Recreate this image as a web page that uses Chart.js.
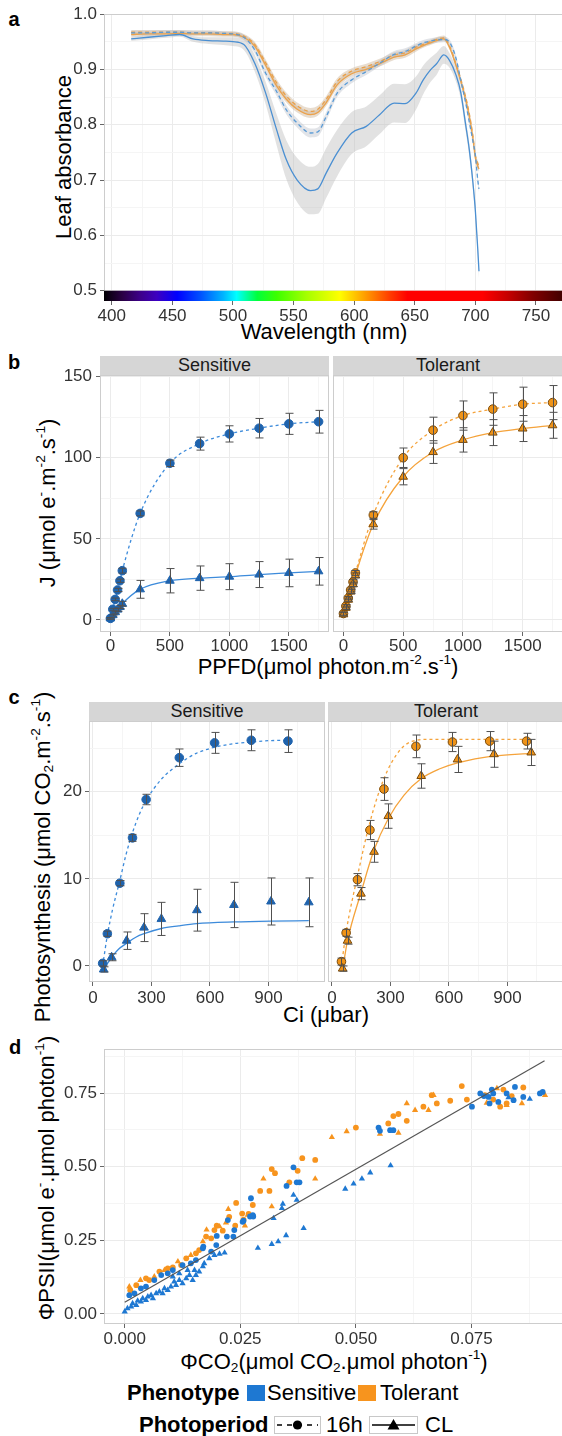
<!DOCTYPE html>
<html>
<head>
<meta charset="utf-8">
<title>Leaf absorbance, electron transport and photosynthesis</title>
<script src="https://cdn.jsdelivr.net/npm/chart.js@4.4.1/dist/chart.umd.min.js"></script>
<style>
  html, body { margin: 0; padding: 0; background: #fff; }
  body { position: relative; width: 562px; height: 1436px; overflow: hidden;
         font-family: 'Liberation Sans', Arial, Helvetica, sans-serif; color: #1a1a1a; }
  .abs { position: absolute; white-space: nowrap; }
  .ctr { transform: translate(-50%, -50%); }
  .rot { transform: translate(-50%, -50%) rotate(-90deg); }
  .tag { font-weight: bold; font-size: 20px; color: #000; }
  .axt { font-size: 22px; color: #000; }
  .strip { background: #d6d6d6; font-size: 18px; line-height: 19px; height: 19px; text-align: center; color: #1a1a1a; }
  .leg { font-size: 22px; color: #000; transform: translateY(-50%); }
  .key { position: absolute; }
  sup { font-size: 62%; vertical-align: 0.7em; line-height: 0; }
  sub { font-size: 62%; vertical-align: -0.2em; line-height: 0; }
</style>
</head>
<body>

<!-- panel letters -->
<div class="abs tag ctr" style="left:14px;top:19px">a</div>
<div class="abs tag ctr" style="left:14px;top:362px">b</div>
<div class="abs tag ctr" style="left:14px;top:697px">c</div>
<div class="abs tag ctr" style="left:15px;top:1047px">d</div>

<!-- axis titles -->
<div class="abs axt rot" style="left:64px;top:157px">Leaf absorbance</div>
<div class="abs axt ctr" style="left:324px;top:332px">Wavelength (nm)</div>
<div class="abs axt rot" style="left:48px;top:503px">J (μmol e<sup>-</sup>.m<sup>-2</sup>.s<sup>-1</sup>)</div>
<div class="abs axt ctr" style="left:328px;top:667px">PPFD(μmol photon.m<sup>-2</sup>.s<sup>-1</sup>)</div>
<div class="abs axt rot" style="left:43px;top:857px">Photosynthesis (μmol CO<sub>2</sub>.m<sup>-2</sup>.s<sup>-1</sup>)</div>
<div class="abs axt ctr" style="left:326px;top:1015px">Ci (μbar)</div>
<div class="abs axt rot" style="left:47px;top:1178px">ΦPSII(μmol e<sup>-</sup>.μmol photon<sup>-1</sup>)</div>
<div class="abs axt ctr" style="left:334px;top:1362px">ΦCO<sub>2</sub>(μmol CO<sub>2</sub>.μmol photon<sup>-1</sup>)</div>

<!-- facet strips -->
<div class="abs strip" style="left:100px;top:356px;width:229px">Sensitive</div>
<div class="abs strip" style="left:333px;top:356px;width:230px">Tolerant</div>
<div class="abs strip" style="left:89px;top:702px;width:236px">Sensitive</div>
<div class="abs strip" style="left:328px;top:702px;width:236px">Tolerant</div>

<!-- legend -->
<div class="abs leg" style="left:127px;top:1393px;font-weight:bold">Phenotype</div>
<div class="key" style="left:247px;top:1385px;width:18px;height:16px;background:#1e78d2"></div>
<div class="abs leg" style="left:267px;top:1393px">Sensitive</div>
<div class="key" style="left:358px;top:1385px;width:18px;height:16px;background:#f7941e"></div>
<div class="abs leg" style="left:380px;top:1393px">Tolerant</div>

<div class="abs leg" style="left:139px;top:1425px;font-weight:bold">Photoperiod</div>
<svg class="key" style="left:274px;top:1416px" width="47" height="18">
  <rect x="0.5" y="0.5" width="46" height="17" fill="#fff" stroke="#c8c8c8"/>
  <line x1="3" y1="9" x2="44" y2="9" stroke="#000" stroke-width="1.6" stroke-dasharray="5,5"/>
  <circle cx="23.5" cy="9" r="4.6" fill="#000"/>
</svg>
<div class="abs leg" style="left:326px;top:1425px">16h</div>
<svg class="key" style="left:369px;top:1416px" width="49" height="18">
  <rect x="0.5" y="0.5" width="48" height="17" fill="#fff" stroke="#c8c8c8"/>
  <line x1="3" y1="9" x2="46" y2="9" stroke="#000" stroke-width="1.6"/>
  <polygon points="24.5,3 30.5,13.5 18.5,13.5" fill="#000"/>
</svg>
<div class="abs leg" style="left:425px;top:1425px">CL</div>

<script>
/******************************************************************************
 * data
 *****************************************************************************/
// a: leaf absorbance spectra
const wl = [416, 430, 445, 456, 467, 480, 492, 500, 509, 518, 527, 536, 544, 553, 564, 570, 577, 586, 598, 610,
            621, 633, 642, 651, 657, 663, 668, 674, 679, 684, 688, 692, 695, 698, 700, 702, 703];
const absSensCL = [0.955, 0.958, 0.961, 0.963, 0.955, 0.952, 0.951, 0.950, 0.945, 0.911, 0.857, 0.791, 0.737, 0.700,
                   0.681, 0.684, 0.713, 0.749, 0.785, 0.797, 0.818, 0.839, 0.838, 0.857, 0.881, 0.899, 0.910, 0.926,
                   0.915, 0.890, 0.858, 0.800, 0.755, 0.695, 0.645, 0.575, 0.535];
const absSensCLsd = [0.004, 0.004, 0.004, 0.004, 0.005, 0.006, 0.007, 0.008, 0.010, 0.015, 0.020, 0.028, 0.035, 0.040,
                     0.043, 0.045, 0.045, 0.042, 0.038, 0.036, 0.035, 0.035, 0.035, 0.030, 0.026, 0.022, 0.020, 0.016,
                     0.013, 0.012, 0.012, 0.012, 0.012, 0.012, 0.012, 0.012, 0.012];
const absSens16 = [0.966, 0.966, 0.967, 0.967, 0.966, 0.966, 0.965, 0.964, 0.958, 0.935, 0.893, 0.860, 0.827, 0.803,
                   0.785, 0.787, 0.815, 0.857, 0.881, 0.896, 0.911, 0.927, 0.932, 0.942, 0.948, 0.951, 0.953, 0.954,
                   0.948, 0.920, 0.880, 0.840, 0.805, 0.770, 0.745, 0.700, 0.684];
const absSens16sd = [0.004, 0.004, 0.004, 0.004, 0.004, 0.004, 0.004, 0.004, 0.005, 0.006, 0.007, 0.008, 0.008, 0.008,
                     0.008, 0.008, 0.008, 0.007, 0.006, 0.006, 0.006, 0.006, 0.006, 0.005, 0.005, 0.005, 0.005, 0.005,
                     0.005, 0.006, 0.006, 0.006, 0.006, 0.006, 0.006, 0.006, 0.006];
const absTol16 = [0.967, 0.967, 0.967, 0.967, 0.966, 0.966, 0.965, 0.965, 0.960, 0.945, 0.912, 0.876, 0.852, 0.834,
                  0.824, 0.828, 0.846, 0.878, 0.897, 0.905, 0.914, 0.926, 0.930, 0.940, 0.945, 0.950, 0.954, 0.957,
                  0.941, 0.910, 0.882, 0.850, 0.820, 0.780, 0.745, 0.730, 0.725];
const absTolCL = [0.963, 0.964, 0.964, 0.965, 0.964, 0.964, 0.963, 0.963, 0.958, 0.942, 0.907, 0.870, 0.846, 0.828,
                  0.818, 0.822, 0.840, 0.872, 0.892, 0.900, 0.910, 0.922, 0.926, 0.937, 0.943, 0.948, 0.952, 0.955,
                  0.938, 0.907, 0.878, 0.845, 0.815, 0.775, 0.740, 0.725, 0.720];
const absTolSd = [0.004, 0.004, 0.004, 0.004, 0.004, 0.004, 0.004, 0.004, 0.004, 0.005, 0.006, 0.006, 0.006, 0.006,
                  0.006, 0.006, 0.006, 0.006, 0.005, 0.005, 0.005, 0.005, 0.005, 0.005, 0.004, 0.004, 0.004, 0.004,
                  0.004, 0.005, 0.005, 0.005, 0.005, 0.005, 0.005, 0.005, 0.005];
const spectrumNm = [393, 409, 423, 437, 454, 473, 492, 503, 520, 536, 561, 588, 611, 630, 644, 706, 726, 747, 775];
const spectrumCol = ['#000000', '#2a0045', '#3c0087', '#3d00c0', '#0000ff', '#0050ff', '#00b4ff', '#00ffff',
                     '#00ff3c', '#3cff00', '#a6ff00', '#ffff00', '#ff9400', '#ff3a00', '#ff0000', '#ff0000',
                     '#c80000', '#820000', '#3a0000'];

// b: electron transport rate vs PPFD
const ppfd = [0, 20, 40, 60, 80, 100, 250, 500, 750, 1000, 1250, 1500, 1750];
const jSens16 = [1.0, 6.6, 12.7, 18.5, 24.2, 30.4, 65.7, 96.6, 108.7, 114.7, 118.2, 120.9, 122.2];
const jSens16Err = [0.5, 0.6, 0.8, 1.0, 1.0, 1.5, 1.5, 2.0, 4.0, 5.0, 6.0, 6.5, 7.0];
const jSensCL = [1.0, 3.0, 4.8, 6.4, 8.0, 10.0, 18.9, 24.2, 25.8, 26.7, 28.0, 29.0, 30.0];
const jSensCLErr = [0.5, 0.5, 0.6, 1.0, 1.0, 1.5, 5.5, 7.5, 7.5, 8.0, 8.0, 8.5, 8.5];
const jTol16 = [4.0, 8.5, 13.5, 18.5, 23.5, 29.0, 64.7, 100.0, 117.0, 126.0, 130.0, 133.0, 134.0];
const jTol16Err = [1.0, 1.0, 1.0, 1.2, 1.3, 1.5, 2.0, 6.0, 8.0, 9.0, 10.0, 10.5, 10.5];
const jTolCL = [3.5, 7.5, 12.5, 17.5, 22.0, 27.5, 59.0, 88.3, 103.5, 111.0, 115.5, 118.0, 120.0];
const jTolCLErr = [1.0, 1.0, 1.0, 1.2, 1.3, 1.5, 3.0, 5.0, 7.0, 7.5, 8.0, 8.0, 8.0];

// c: photosynthesis vs Ci (means, errors, fitted curves)
const ciSens16 = [50, 74, 138, 203, 273, 443, 624, 812, 1000];
const aSens16 = [0.3, 3.7, 9.5, 14.7, 19.1, 23.9, 25.6, 25.9, 25.8];
const aSens16Err = [0.3, 0.3, 0.3, 0.4, 0.6, 1.0, 1.2, 1.2, 1.3];
const fitSens16X = [50, 74, 100, 138, 170, 203, 240, 273, 350, 443, 530, 624, 720, 812, 900, 1000];
const fitSens16Y = [0.0, 3.5, 6.4, 9.8, 12.8, 15.3, 17.5, 19.0, 21.4, 23.2, 24.4, 25.1, 25.5, 25.7, 25.85, 25.9];
const ciSensCL = [55, 96, 173, 262, 351, 533, 723, 913, 1107];
const aSensCL = [-0.4, 1.0, 2.9, 4.4, 5.4, 6.4, 7.0, 7.4, 7.3];
const aSensCLErr = [0.3, 0.4, 1.0, 1.6, 1.9, 2.4, 2.6, 2.7, 2.8];
const fitSensCLX = [55, 96, 130, 173, 220, 262, 351, 440, 533, 723, 913, 1107];
const fitSensCLY = [-0.4, 1.0, 1.9, 2.6, 3.3, 3.7, 4.3, 4.6, 4.85, 5.05, 5.15, 5.2];
const ciTol16 = [49, 73, 131, 195, 267, 431, 618, 809, 998];
const aTol16 = [0.5, 3.8, 9.9, 15.6, 20.3, 25.2, 25.7, 25.8, 25.8];
const aTol16Err = [0.4, 0.4, 0.7, 1.1, 1.3, 1.3, 1.1, 1.1, 0.9];
const fitTol16X = [49, 73, 131, 195, 267, 350, 431, 500, 618, 809, 998];
const fitTol16Y = [0.0, 3.9, 10.3, 16.5, 21.5, 24.8, 25.9, 26.0, 26.0, 26.0, 26.0];
const ciTolCL = [55, 80, 149, 216, 289, 458, 644, 831, 1022];
const aTolCL = [-0.3, 2.9, 8.3, 13.1, 17.2, 21.8, 23.7, 24.3, 24.5];
const aTolCLErr = [0.3, 0.4, 0.7, 1.2, 1.4, 1.4, 1.5, 1.5, 1.5];
const fitTolCLX = [55, 80, 149, 216, 289, 370, 458, 550, 644, 831, 1022];
const fitTolCLY = [-0.4, 2.9, 8.4, 13.3, 16.9, 19.6, 21.5, 22.6, 23.3, 24.1, 24.4];

// d: quantum yield of PSII vs quantum yield of CO2 fixation  [phiCO2, phiPSII]
const dSens16 = [[0.0010,0.064],[0.0021,0.070],[0.0035,0.087],[0.0046,0.093],[0.0064,0.115],[0.0079,0.132],
  [0.0093,0.138],[0.0104,0.149],[0.0125,0.166],[0.0143,0.172],[0.0154,0.183],[0.0169,0.223],[0.0187,0.212],
  [0.0198,0.234],[0.0170,0.229],[0.0199,0.265],[0.0221,0.263],[0.0235,0.263],[0.0223,0.319],[0.0237,0.285],
  [0.0255,0.313],[0.0257,0.317],[0.0271,0.331],[0.0278,0.331],[0.0277,0.336],[0.0273,0.393],[0.0350,0.435],
  [0.0372,0.447],[0.0378,0.447],[0.0365,0.498],[0.0549,0.633],[0.0552,0.622],[0.0574,0.624],[0.0581,0.624],
  [0.0751,0.704],[0.0769,0.749],[0.0777,0.740],[0.0787,0.737],[0.0789,0.715],[0.0794,0.762],[0.0797,0.749],
  [0.0808,0.720],[0.0826,0.749],[0.0841,0.726],[0.0844,0.771],[0.0862,0.737],[0.0898,0.749],[0.0904,0.754]];
const dSensCL = [[0.0000,0.008],[0.0006,0.019],[0.0014,0.025],[0.0017,0.036],[0.0025,0.030],[0.0028,0.045],
  [0.0035,0.042],[0.0039,0.053],[0.0046,0.047],[0.0050,0.059],[0.0057,0.064],[0.0061,0.053],[0.0068,0.070],
  [0.0075,0.076],[0.0082,0.070],[0.0086,0.087],[0.0093,0.081],[0.0100,0.093],[0.0104,0.127],[0.0107,0.110],
  [0.0111,0.098],[0.0118,0.115],[0.0118,0.138],[0.0125,0.104],[0.0133,0.121],[0.0136,0.149],[0.0140,0.132],
  [0.0147,0.115],[0.0151,0.149],[0.0154,0.132],[0.0161,0.144],[0.0169,0.161],[0.0172,0.172],[0.0183,0.189],
  [0.0194,0.200],[0.0205,0.204],[0.0216,0.208],[0.0288,0.224],[0.0318,0.237],[0.0332,0.246],[0.0349,0.267],
  [0.0387,0.291],[0.0322,0.325],[0.0340,0.359],[0.0342,0.374],[0.0365,0.404],[0.0372,0.387],[0.0477,0.425],
  [0.0495,0.442],[0.0513,0.459],[0.0531,0.480],[0.0575,0.504],[0.0830,0.735],[0.0876,0.730]];
const dTol16 = [[0.0012,0.081],[0.0025,0.098],[0.0046,0.121],[0.0053,0.115],[0.0075,0.144],[0.0093,0.155],
  [0.0104,0.158],[0.0122,0.166],[0.0133,0.189],[0.0154,0.206],[0.0161,0.217],[0.0176,0.263],[0.0187,0.257],
  [0.0194,0.285],[0.0212,0.283],[0.0199,0.300],[0.0226,0.330],[0.0241,0.377],[0.0254,0.341],[0.0268,0.340],
  [0.0239,0.300],[0.0257,0.320],[0.0277,0.370],[0.0293,0.418],[0.0313,0.418],[0.0318,0.492],[0.0325,0.478],
  [0.0356,0.447],[0.0374,0.486],[0.0384,0.529],[0.0412,0.523],[0.0500,0.633],[0.0570,0.647],[0.0581,0.672],
  [0.0592,0.679],[0.0610,0.656],[0.0646,0.704],[0.0664,0.743],[0.0675,0.715],[0.0704,0.724],[0.0729,0.774],
  [0.0740,0.728],[0.0779,0.743],[0.0797,0.728],[0.0812,0.704],[0.0819,0.762],[0.0826,0.715],[0.0837,0.740],
  [0.0862,0.769]];
const dTolCL = [[0.0010,0.093],[0.0034,0.115],[0.0064,0.127],[0.0086,0.149],[0.0115,0.178],[0.0143,0.200],
  [0.0169,0.246],[0.0177,0.286],[0.0205,0.297],[0.0219,0.310],[0.0224,0.356],[0.0260,0.300],[0.0266,0.336],
  [0.0300,0.459],[0.0318,0.365],[0.0412,0.459],[0.0448,0.600],[0.0480,0.620],[0.0552,0.611],[0.0592,0.615],
  [0.0610,0.715],[0.0628,0.692],[0.0657,0.692],[0.0668,0.743],[0.0783,0.717],[0.0805,0.766],[0.0826,0.709],
  [0.0859,0.715],[0.0909,0.743]];
const dLineX = [0.0, 0.0908];
const dLineY = [0.04, 0.86];

/******************************************************************************
 * look
 *****************************************************************************/
const BLUE = '#1e78d2', ORANGE = '#f7941e';
Chart.defaults.font.family = "'Liberation Sans', Arial, Helvetica, sans-serif";
Chart.defaults.font.size = 17;
Chart.defaults.color = '#333';
Chart.defaults.animation = false;

const frame = {
  id: 'frame',
  beforeDatasetsDraw(chart) {
    const a = chart.chartArea, c = chart.ctx;
    c.save();
    c.strokeStyle = '#cdcdcd';
    c.lineWidth = 1;
    c.strokeRect(Math.round(a.left) + 0.5, Math.round(a.top) + 0.5,
                 Math.round(a.right - a.left) - 1, Math.round(a.bottom - a.top) - 1);
    c.restore();
  }
};

const spectrumBar = {
  id: 'spectrumBar',
  beforeDatasetsDraw(chart) {
    const {ctx, chartArea: a, scales: {x, y}} = chart;
    const x0 = x.getPixelForValue(spectrumNm[0]);
    const x1 = x.getPixelForValue(spectrumNm[spectrumNm.length - 1]);
    const g = ctx.createLinearGradient(x0, 0, x1, 0);
    spectrumNm.forEach((nm, i) => g.addColorStop((x.getPixelForValue(nm) - x0) / (x1 - x0), spectrumCol[i]));
    const top = y.getPixelForValue(0.5);
    ctx.save();
    ctx.fillStyle = g;
    ctx.fillRect(a.left, top, a.right - a.left, a.bottom - top);
    ctx.restore();
  }
};

const errorBars = {
  id: 'errorBars',
  afterDatasetsDraw(chart) {
    const {ctx, scales: {x, y}} = chart;
    ctx.save();
    ctx.strokeStyle = '#505050';
    ctx.lineWidth = 1;
    chart.data.datasets.forEach(ds => {
      if (!ds.errors) return;
      ds.data.forEach((p, j) => {
        const e = ds.errors[j];
        const px = Math.round(x.getPixelForValue(p.x)) + 0.5;
        const lo = y.getPixelForValue(p.y - e), hi = y.getPixelForValue(p.y + e);
        ctx.beginPath();
        ctx.moveTo(px, lo); ctx.lineTo(px, hi);
        ctx.moveTo(px - 4, lo); ctx.lineTo(px + 4, lo);
        ctx.moveTo(px - 4, hi); ctx.lineTo(px + 4, hi);
        ctx.stroke();
      });
    });
    ctx.restore();
  }
};

// linear axis with ggplot-like major + minor grid
function axis(min, max, majors, minors, fmt, pad, showLabels) {
  const all = majors.concat(minors).sort((a, b) => a - b);
  const isMajor = v => majors.some(m => Math.abs(m - v) < 1e-9);
  return {
    type: 'linear', min: min, max: max,
    afterBuildTicks: s => { s.ticks = all.map(v => ({value: v})); },
    ticks: {
      display: showLabels !== false, autoSkip: false, maxRotation: 0, padding: pad,
      callback: v => isMajor(v) ? fmt(v) : ''
    },
    grid: {
      color: c => (c.tick && isMajor(c.tick.value)) ? '#ebebeb' : '#f5f5f5',
      tickColor: c => (c.tick && isMajor(c.tick.value)) ? '#666' : 'rgba(0,0,0,0)',
      tickLength: 4, drawTicks: showLabels !== false
    },
    border: {display: false}
  };
}

// place a chart so that its plot area lands on box (page pixels)
function place(box, config, yw, xh) {
  const wrap = document.createElement('div');
  wrap.style.position = 'absolute';
  const cv = document.createElement('canvas');
  const padT = 16, padR = 16, padL = 10;
  cv.width = Math.round(padL + yw + box.w + padR);
  cv.height = Math.round(padT + box.h + xh);
  wrap.appendChild(cv);
  document.body.appendChild(wrap);
  config.options.responsive = false;
  config.options.maintainAspectRatio = false;
  config.options.events = [];
  config.options.layout = {padding: {top: padT, right: padR, left: padL, bottom: 0}};
  config.options.plugins = {legend: {display: false}, tooltip: {enabled: false}};
  config.options.scales.y.afterFit = s => { s.width = yw; };
  config.options.scales.x.afterFit = s => { s.height = xh; };
  const chart = new Chart(cv, config);
  let a = chart.chartArea;
  const dw = box.w - (a.right - a.left), dh = box.h - (a.bottom - a.top);
  if (Math.abs(dw) > 0.5 || Math.abs(dh) > 0.5) {
    chart.resize(Math.round(chart.width + dw), Math.round(chart.height + dh));
    a = chart.chartArea;
  }
  wrap.style.left = (box.x - a.left) + 'px';
  wrap.style.top = (box.y - a.top) + 'px';
  return chart;
}

const pts = (xs, ys) => xs.map((x, i) => ({x: x, y: ys[i]}));
const pairs = arr => arr.map(p => ({x: p[0], y: p[1]}));

/******************************************************************************
 * a
 *****************************************************************************/
function ribbon(ys, sd, fillCol) {
  return [
    {type: 'line', data: pts(wl, ys.map((v, i) => v + sd[i])), borderWidth: 0, pointRadius: 0,
     fill: '+1', backgroundColor: fillCol, cubicInterpolationMode: 'monotone', order: 2},
    {type: 'line', data: pts(wl, ys.map((v, i) => v - sd[i])), borderWidth: 0, pointRadius: 0,
     fill: false, cubicInterpolationMode: 'monotone', order: 2}
  ];
}
function spectrumLine(ys, col, dashed) {
  return {type: 'line', data: pts(wl, ys), borderColor: col, borderWidth: 1.3, borderDash: dashed ? [4, 3] : [],
          pointRadius: 0, fill: false, cubicInterpolationMode: 'monotone', order: 0};
}

place({x: 104, y: 14, w: 462, h: 287}, {
  type: 'scatter',
  data: {datasets: [].concat(
    ribbon(absSensCL, absSensCLsd, 'rgba(190,190,190,0.45)'),
    ribbon(absSens16, absSens16sd, 'rgba(190,195,205,0.45)'),
    ribbon(absTol16, absTolSd, 'rgba(205,180,150,0.45)'),
    ribbon(absTolCL, absTolSd, 'rgba(205,180,150,0.45)'),
    [spectrumLine(absSensCL, '#4a8fd2', false),
     spectrumLine(absSens16, '#5a9bd6', true),
     spectrumLine(absTol16, '#e9a04a', true),
     spectrumLine(absTolCL, '#eba24c', false)]
  )},
  options: {
    scales: {
      x: axis(393.6, 774.8, [400, 450, 500, 550, 600, 650, 700, 750], [425, 475, 525, 575, 625, 675, 725],
              v => String(v), 1),
      y: axis(0.4814, 1.0, [0.5, 0.6, 0.7, 0.8, 0.9, 1.0], [0.55, 0.65, 0.75, 0.85, 0.95],
              v => v.toFixed(1), 3)
    }
  },
  plugins: [frame, spectrumBar]
}, 60, 40);

/******************************************************************************
 * b and c facets
 *****************************************************************************/
function facet(box, xAxis, yAxis, series, yw) {
  const datasets = [];
  series.forEach(s => {
    datasets.push({type: 'line', data: pts(s.fx, s.fy), borderColor: s.line, borderWidth: 1.3,
                   borderDash: s.dash ? [3, 3] : [], pointRadius: 0, fill: false, showLine: true,
                   cubicInterpolationMode: 'monotone', order: 2});
    datasets.push({type: 'scatter', data: pts(s.x, s.y), errors: s.err, pointStyle: s.shape,
                   pointRadius: s.shape === 'triangle' ? 5 : 4.3, backgroundColor: s.fill,
                   borderColor: s.edge, borderWidth: 1, order: 1});
  });
  return place(box, {type: 'scatter', data: {datasets: datasets},
                     options: {scales: {x: xAxis, y: yAxis}}, plugins: [frame, errorBars]}, yw, 40);
}

const SENS_PT = '#1f63ad', SENS_LN = '#3d8bdb', TOL_PT = '#ef9318', TOL_LN = '#f5a33b';
const bx = () => axis(-87.5, 1837.5, [0, 500, 1000, 1500], [250, 750, 1250, 1750], v => String(v), 0);
const by = show => axis(-7.4, 151.0, [0, 50, 100, 150], [25, 75, 125], v => String(v), 4, show);

facet({x: 100, y: 375, w: 229, h: 257}, bx(), by(true), [
  {x: ppfd, y: jSensCL, err: jSensCLErr, fx: ppfd, fy: jSensCL, shape: 'triangle',
   fill: SENS_PT, edge: SENS_PT, line: SENS_LN, dash: false},
  {x: ppfd, y: jSens16, err: jSens16Err, fx: ppfd, fy: jSens16, shape: 'circle',
   fill: SENS_PT, edge: SENS_PT, line: SENS_LN, dash: true}
], 60);
facet({x: 333, y: 375, w: 230, h: 257}, bx(), by(false), [
  {x: ppfd, y: jTolCL, err: jTolCLErr, fx: ppfd, fy: jTolCL, shape: 'triangle',
   fill: TOL_PT, edge: '#7a4a0a', line: TOL_LN, dash: false},
  {x: ppfd, y: jTol16, err: jTol16Err, fx: ppfd, fy: jTol16, shape: 'circle',
   fill: TOL_PT, edge: '#7a4a0a', line: TOL_LN, dash: true}
], 0);

const cx = () => axis(-20, 1190, [0, 300, 600, 900], [150, 450, 750, 1050], v => String(v), 2);
const cy = show => axis(-1.84, 28.11, [0, 10, 20], [5, 15, 25], v => String(v), 3, show);

facet({x: 89, y: 721, w: 236, h: 261}, cx(), cy(true), [
  {x: ciSensCL, y: aSensCL, err: aSensCLErr, fx: fitSensCLX, fy: fitSensCLY, shape: 'triangle',
   fill: SENS_PT, edge: SENS_PT, line: SENS_LN, dash: false},
  {x: ciSens16, y: aSens16, err: aSens16Err, fx: fitSens16X, fy: fitSens16Y, shape: 'circle',
   fill: SENS_PT, edge: SENS_PT, line: SENS_LN, dash: true}
], 60);
facet({x: 328, y: 721, w: 236, h: 261}, cx(), cy(false), [
  {x: ciTolCL, y: aTolCL, err: aTolCLErr, fx: fitTolCLX, fy: fitTolCLY, shape: 'triangle',
   fill: TOL_PT, edge: '#7a4a0a', line: TOL_LN, dash: false},
  {x: ciTol16, y: aTol16, err: aTol16Err, fx: fitTol16X, fy: fitTol16Y, shape: 'circle',
   fill: TOL_PT, edge: '#7a4a0a', line: TOL_LN, dash: true}
], 0);

/******************************************************************************
 * d
 *****************************************************************************/
place({x: 104, y: 1049, w: 462, h: 275}, {
  type: 'scatter',
  data: {datasets: [
    {type: 'line', data: pts(dLineX, dLineY), borderColor: '#555', borderWidth: 1.2, pointRadius: 0,
     showLine: true, fill: false, order: 0},
    {data: pairs(dSensCL), pointStyle: 'triangle', pointRadius: 3.6, backgroundColor: BLUE, borderWidth: 0, order: 1},
    {data: pairs(dSens16), pointStyle: 'circle', pointRadius: 2.9, backgroundColor: BLUE, borderWidth: 0, order: 1},
    {data: pairs(dTolCL), pointStyle: 'triangle', pointRadius: 3.6, backgroundColor: ORANGE, borderWidth: 0, order: 1},
    {data: pairs(dTol16), pointStyle: 'circle', pointRadius: 2.9, backgroundColor: ORANGE, borderWidth: 0, order: 1}
  ]},
  options: {
    scales: {
      x: axis(-0.00448, 0.09544, [0, 0.025, 0.05, 0.075], [0.0125, 0.0375, 0.0625, 0.0875], v => v.toFixed(3), 1),
      y: axis(-0.034, 0.8998, [0, 0.25, 0.5, 0.75], [0.125, 0.375, 0.625, 0.875], v => v.toFixed(2), 3)
    }
  },
  plugins: [frame]
}, 60, 40);
</script>
</body>
</html>
